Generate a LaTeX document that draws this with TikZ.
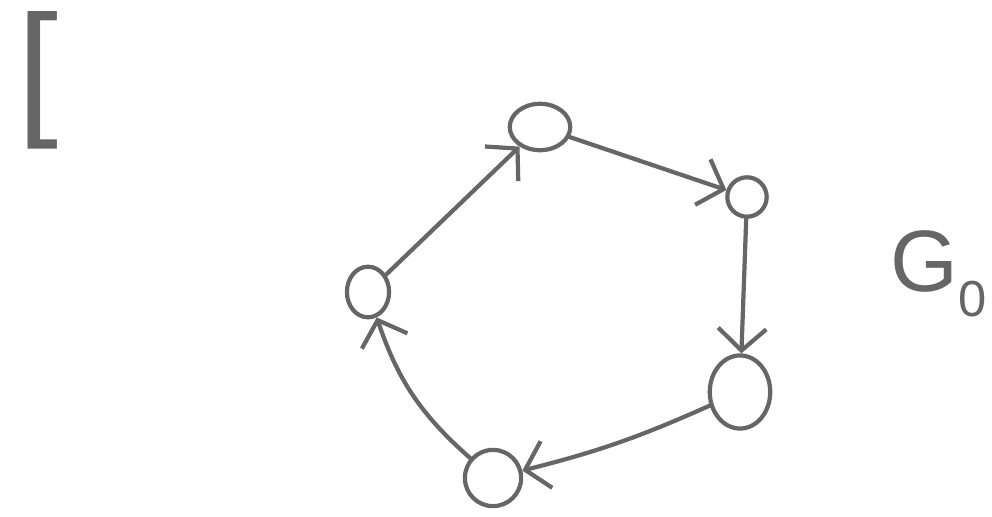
\documentclass[tikz,border=0pt]{standalone}
\usepackage{fontspec}
\usepackage{xcolor}
\usepackage{tikz}
\usetikzlibrary{shapes.geometric,arrows.meta}
\setmainfont{Liberation Sans}
\definecolor{cInk}{HTML}{666666}

\begin{document}
\begin{tikzpicture}[
    x=0.025cm, y=-0.025cm,
    state/.style={ellipse, draw=cInk, line width=3pt, inner sep=0pt},
    flow/.style={-{Straight Barb[length=5.5mm,width=12mm,line width=3pt]},
                 line width=3pt, draw=cInk, line cap=round, line join=round},
    lbl/.style={text=cInk, inner sep=0pt},
  ]
  \useasboundingbox (0,0) rectangle (992,517);
  % cycle of five states
  \node[state, minimum width=43pt, minimum height=33pt] (top) at (540,127) {};
  \node[state, minimum width=28pt, minimum height=28pt] (right) at (747,197) {};
  \node[state, minimum width=43pt, minimum height=52pt] (low) at (740,392) {};
  \node[state, minimum width=40pt, minimum height=40pt] (bot) at (493,478) {};
  \node[state, minimum width=30pt, minimum height=36pt] (left) at (368,292) {};
  % labels
  \node[lbl, font=\fontsize{105}{105}\selectfont] (brk) at (38,80) {[};
  \node[lbl, font=\fontsize{62}{62}\selectfont, anchor=base west] (g0) at (890,292)
    {G\raisebox{-0.28em}{\fontsize{36}{36}\selectfont 0}};
  \draw[flow] (left) -- (top);
  \draw[flow] (top) -- (right);
  \draw[flow] (right) -- (low);
  \draw[flow] (low) to[bend left=5] (bot);
  \draw[flow] (bot) to[bend left=15] (left);
\end{tikzpicture}
\end{document}
